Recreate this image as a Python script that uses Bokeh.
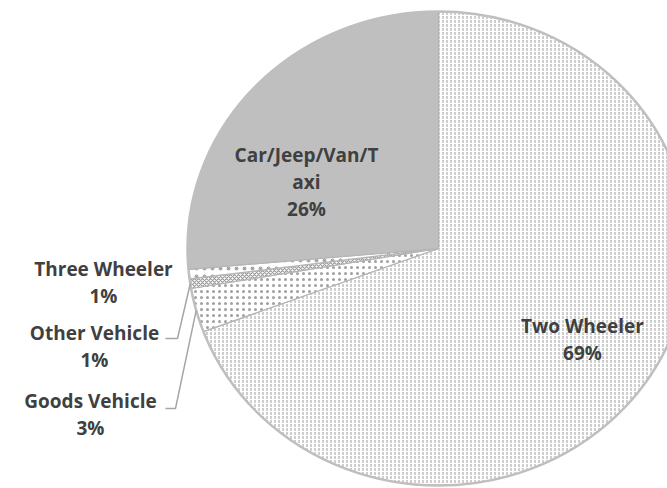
import numpy as np
from bokeh.plotting import figure
from bokeh.models import Range1d, ColumnDataSource
from bokeh.core.properties import value
from bokeh.embed import file_html
from bokeh.resources import INLINE

# ---- data (clockwise from 12 o'clock) ----
categories = ["Two Wheeler", "Goods Vehicle", "Other Vehicle", "Three Wheeler", "Car/Jeep/Van/Taxi"]
shares = [69.3, 3.0, 0.65, 0.65, 26.4]
pct_labels = ["69%", "3%", "1%", "1%", "26%"]
label_lines = [["Two Wheeler"], ["Goods Vehicle"], ["Other Vehicle"], ["Three Wheeler"], ["Car/Jeep/Van/T", "axi"]]

# ---- styles ----
fills = ["white", "white", "white", "white", "#BFBFBF"]
hatches = ["vertical_dash", "dot", "diagonal_cross", "dot", " "]
hatch_scales = [4, 6, 4, 8, 12]
hatch_colors = ["#ADADAD", "#A0A0A0", "#9A9A9A", "#A8A8A8", "#BFBFBF"]

# ---- layout (plot coordinates, y up, 1 unit = 1 px) ----
W, H = 667, 488
CX, CY = 438, 240
RX, RY = 251, 237
# label block centers (x, y of first line) and line spacing
label_pos = [(582, 163), (90, 88), (94, 156), (103, 220), (306, 334)]
line_gap = 27
# leader lines: (text end x, elbow x, y)
leaders = {1: (165, 175, 80), 2: (165, 177, 150)}

p = figure(width=W, height=H, output_backend="svg", toolbar_location=None,
           x_range=Range1d(0, W), y_range=Range1d(0, H), min_border=0)
p.axis.visible = False
p.grid.visible = False
p.outline_line_color = None
p.background_fill_color = "white"
p.border_fill_color = "white"

total = float(sum(shares))
cum = np.concatenate([[0.0], np.cumsum(shares)]) / total


def edge_point(frac):
    t = 2 * np.pi * frac
    return CX + RX * np.sin(t), CY + RY * np.cos(t)


xs, ys = [], []
for i in range(len(shares)):
    n = max(4, int((cum[i + 1] - cum[i]) * 720))
    t = np.linspace(cum[i], cum[i + 1], n)
    ex, ey = edge_point(t)
    xs.append([CX] + list(ex) + [CX])
    ys.append([CY] + list(ey) + [CY])

src = ColumnDataSource(dict(xs=xs, ys=ys, fill=fills, hatch=hatches,
                            hscale=hatch_scales, hcolor=hatch_colors))
p.patches("xs", "ys", source=src, fill_color="fill", hatch_pattern="hatch",
          hatch_scale="hscale", hatch_color="hcolor", hatch_weight=1.2,
          line_color="#B5B5B5", line_width=1.2)

p.ellipse(x=[CX], y=[CY], width=[2 * RX], height=[2 * RY], fill_color=None,
          line_color="#BFBFBF", line_width=2.5)

# leader lines
for i, (tx, ex_, ly) in leaders.items():
    mid = (cum[i] + cum[i + 1]) / 2
    px, py = edge_point(mid)
    p.line([tx, ex_, px], [ly, ly, py], line_color="#A6A6A6", line_width=1.5)

# labels
tx_, ty_, tt_ = [], [], []
for i in range(len(shares)):
    x0, y0 = label_pos[i]
    lines = label_lines[i] + [pct_labels[i]]
    for k, s in enumerate(lines):
        tx_.append(x0)
        ty_.append(y0 - k * line_gap)
        tt_.append(s)
p.text(x=tx_, y=ty_, text=tt_, text_align="center", text_baseline="middle",
       text_font=value("Open Sans"), text_font_style="bold",
       text_font_size="19px", text_color="#404040")

open("out.html", "w").write(file_html(p, INLINE))
